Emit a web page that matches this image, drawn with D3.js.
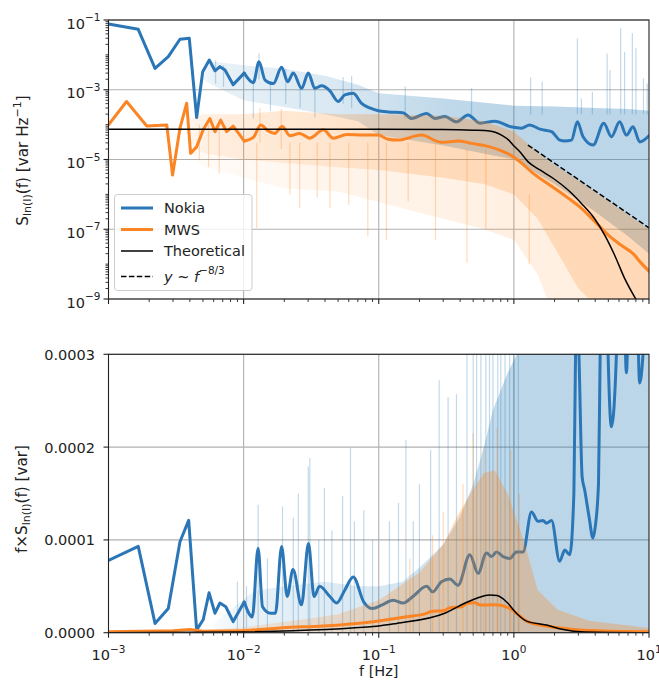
<!DOCTYPE html>
<html>
<head>
<meta charset="utf-8">
<script src="https://cdn.jsdelivr.net/npm/d3@7"></script>
<style>
  body { margin: 0; background: #fff; }
  svg text { font-family: "DejaVu Sans", sans-serif; fill: #222; }
</style>
</head>
<body>
<svg id="chart" width="659" height="690"></svg>
<script>
// ---- axis ticks / labels
const xMajor = [1e-3, 1e-2, 1e-1, 1e0, 1e1];
const xMajorExp = ['−3', '−2', '−1', '0', '1'];
const topYMajor = [1e-9, 1e-7, 1e-5, 1e-3, 1e-1];
const topYMajorExp = ['−9', '−7', '−5', '−3', '−1'];
const botYTicks = [0, 1, 2, 3]; // bottom panel values are in units of 1e-4 var
const botYLabels = ['0.0000', '0.0001', '0.0002', '0.0003'];

// ---- top panel: S(f) [var Hz^-1], smoothed spectra
const nokiaPsdF = [0.001, 0.00166, 0.00221, 0.00277, 0.00338, 0.00396, 0.00449, 0.00498, 0.00557, 0.00614,
  0.00668, 0.00728, 0.00837, 0.0101, 0.0118, 0.013, 0.0144, 0.0166, 0.0191, 0.0212,
  0.0233, 0.0269, 0.0301, 0.0337, 0.0378, 0.0435, 0.0501, 0.0561, 0.0647, 0.0746,
  0.0859, 0.099, 0.1175, 0.151, 0.175, 0.226, 0.26, 0.308, 0.376, 0.458,
  0.56, 0.722, 0.95, 1.14, 1.31, 1.56, 1.9, 2.19, 2.38, 2.67,
  2.95, 3.25, 3.86, 4.63, 5.27, 6.07, 6.8, 7.62, 8.54, 10];
const nokiaPsd = [7.7e-2, 5.4e-2, 4.1e-3, 8.9e-3, 2.8e-2, 3.0e-2, 1.6e-4, 3.3e-3, 7.1e-3, 3.5e-3,
  4.6e-3, 3.7e-3, 1.4e-3, 3.0e-3, 1.6e-3, 6.3e-3, 1.9e-3, 1.5e-3, 4.4e-3, 1.7e-3,
  3.0e-3, 1.1e-3, 3.0e-3, 1.1e-3, 1.3e-3, 9.3e-4, 4.6e-4, 7.1e-4, 7.9e-4, 4.1e-4,
  3.0e-4, 2.5e-4, 2.3e-4, 2.2e-4, 1.5e-4, 2.1e-4, 1.5e-4, 1.7e-4, 1.2e-4, 1.9e-4,
  1.1e-4, 1.26e-4, 8.7e-5, 7.9e-5, 9.8e-5, 7.4e-5, 6.3e-5, 3.6e-5, 3.4e-5, 3.6e-5,
  1.2e-4, 4.5e-5, 2.6e-5, 1.1e-4, 4.5e-5, 1.2e-4, 5.0e-5, 8.7e-5, 3.2e-5, 4.8e-5];

const mwsPsdF = [0.001, 0.00136, 0.00192, 0.0027, 0.00298, 0.00338, 0.00379, 0.00405, 0.00449, 0.00502,
  0.00563, 0.00614, 0.00676, 0.00748, 0.00837, 0.0101, 0.0118, 0.0134, 0.0152, 0.017,
  0.0193, 0.022, 0.026, 0.0309, 0.039, 0.046, 0.058, 0.077, 0.099, 0.1175,
  0.139, 0.207, 0.29, 0.39, 0.486, 0.61, 0.787, 0.95, 1.107, 1.39,
  1.84, 2.45, 3.16, 4.08, 5.12, 6.42, 7.62, 8.79, 10];
const mwsPsd = [9.8e-5, 4.6e-4, 9.1e-5, 9.8e-5, 3.6e-6, 7.9e-5, 4.1e-4, 1.5e-5, 2.3e-5, 7.1e-5,
  1.5e-4, 6.3e-5, 1.35e-4, 6.3e-5, 9.1e-5, 3.4e-5, 4.3e-5, 9.8e-5, 6.6e-5, 5.6e-5,
  8.9e-5, 4.8e-5, 5.6e-5, 4.1e-5, 7.1e-5, 4.1e-5, 5.2e-5, 5.0e-5, 5.0e-5, 3.8e-5,
  3.6e-5, 5.0e-5, 3.1e-5, 3.4e-5, 2.9e-5, 2.5e-5, 1.86e-5, 1.32e-5, 8.7e-6, 4.0e-6,
  1.86e-6, 8.5e-7, 4.0e-7, 1.5e-7, 6.2e-8, 3.2e-8, 2.0e-8, 1.05e-8, 6.3e-9];

const theoryPsdF = [0.001, 0.1, 0.3, 0.5, 0.66, 0.81, 0.93, 0.986, 1.107, 1.27,
  1.56, 1.95, 2.52, 3.16, 3.96, 4.7, 5.57, 6.6, 8.07];
const theoryPsd = [7.35e-5, 7.35e-5, 7.2e-5, 6.9e-5, 6.6e-5, 5.0e-5, 3.4e-5, 2.6e-5, 1.66e-5, 8.7e-6,
  5.0e-6, 2.9e-6, 1.33e-6, 5.5e-7, 2.0e-7, 6.8e-8, 1.8e-8, 3.9e-9, 9.3e-10];

const slopeF = [1.27, 10];
const slopePsd = [2.6e-5, 1.1e-7];

// raw periodogram envelopes (top)
const nokiaPsdBandF = [0.005, 0.006, 0.01, 0.02, 0.04, 0.07, 0.1, 0.3, 1, 2, 4, 7, 10];
const nokiaPsdBandLo = [2e-3, 1.3e-3, 5e-4, 3.2e-4, 2e-4, 1.26e-4, 5e-5, 2.5e-5, 1e-5, 2e-6, 3.2e-7, 6.3e-8, 2e-8];
const nokiaPsdBandHi = [4e-3, 6.3e-3, 5e-3, 4e-3, 2.5e-3, 1.4e-3, 8e-4, 5.6e-4, 3.5e-4, 3.3e-4, 3e-4, 2.8e-4, 2.5e-4];

const mwsPsdBandF = [0.004, 0.005, 0.01, 0.02, 0.05, 0.1, 0.3, 0.6, 1, 1.5, 2, 3, 5, 10];
const mwsPsdBandHi = [1.5e-4, 2e-4, 2e-4, 2.5e-4, 2e-4, 2e-4, 1.8e-4, 1.26e-4, 6.3e-5, 1.6e-5, 7e-6, 2.5e-6, 6.3e-7, 1e-7];
const mwsPsdDenseLo = [3e-5, 1.5e-5, 1e-5, 8e-6, 6e-6, 5e-6, 3e-6, 2e-6, 1e-6, 2e-7, 3e-8, 2e-9, 3e-10, 3e-10];
const mwsPsdSparseLo = [1.5e-5, 6.3e-6, 3e-6, 1.5e-6, 1.2e-6, 6e-7, 2e-7, 1e-7, 5e-8, 5e-9, 3e-10, 3e-10, 3e-10, 3e-10];

// isolated raw spikes [f, from, to] (top)
const nokiaPsdSpikes = [[0.0062, 1.5e-3, 7e-3], [0.0071, 1.2e-3, 5e-3], [0.0118, 1.5e-4, 1.6e-3], [0.013, 2e-3, 1.1e-2],
  [0.0158, 2.5e-4, 1.6e-3], [0.0205, 4e-4, 4e-3], [0.0262, 3e-4, 1.2e-3], [0.0337, 1.6e-4, 1e-3],
  [0.0545, 4e-4, 2.3e-3], [0.063, 3e-4, 2.5e-3], [0.157, 1.5e-4, 1.23e-3], [0.486, 1.5e-4, 1.1e-3],
  [1.33, 2e-4, 2.3e-3], [1.62, 2e-4, 1.7e-3], [2.95, 2e-4, 2.95e-2], [3.16, 2e-4, 5.6e-4],
  [3.81, 2e-4, 8.7e-4], [4.9, 2e-4, 1.1e-2], [5.14, 2e-4, 3.7e-3], [6.17, 2e-4, 5.8e-2],
  [6.6, 2e-4, 1.2e-2], [7.53, 2e-4, 4.2e-2], [8.0, 2e-4, 1.55e-2], [9.1, 2e-4, 2.1e-3], [9.7, 2e-4, 1.5e-3]];
const mwsPsdSpikes = [[0.0047, 1e-5, 1e-4], [0.0055, 6e-6, 1e-4], [0.0066, 4e-6, 1e-4], [0.0125, 1.07e-7, 3e-5],
  [0.0132, 3e-5, 3e-4], [0.019, 2e-5, 2.8e-4], [0.022, 1e-6, 3e-5], [0.026, 4e-7, 3e-5], [0.035, 8e-7, 3e-5],
  [0.0435, 4e-7, 3e-5], [0.06, 5e-7, 3e-5], [0.083, 6.3e-8, 3e-5], [0.114, 5e-8, 3e-5], [0.165, 6.3e-7, 3e-5],
  [0.263, 5e-8, 3e-5], [0.45, 1.1e-8, 2e-5], [0.62, 1e-7, 2e-5], [1.3, 1e-8, 1e-6]];

// ---- bottom panel: f x S(f), in units of 1e-4 var
const nokiaFsF = [0.001, 0.00166, 0.00221, 0.00277, 0.00338, 0.00392, 0.00449, 0.00502, 0.00555, 0.00614,
  0.00668, 0.00738, 0.00837, 0.0101, 0.0116, 0.0128, 0.0138, 0.0158, 0.0172, 0.0191,
  0.021, 0.0232, 0.0268, 0.0302, 0.0332, 0.0365, 0.0435, 0.0488, 0.0561, 0.0647,
  0.0775, 0.0896, 0.106, 0.128, 0.151, 0.179, 0.226, 0.251, 0.291, 0.336,
  0.386, 0.472, 0.543, 0.627, 0.683, 0.743, 0.832, 0.933, 1.045, 1.17,
  1.35, 1.51, 1.64, 1.74, 1.9, 2.18, 2.38, 2.59, 2.78, 2.86,
  2.95, 3.03, 3.2, 3.34, 3.6, 3.85, 4.0, 4.23, 4.35, 4.7,
  4.98, 5.27, 5.74, 6.1, 6.8, 7.6, 8.53, 9.03, 10];
const nokiaFs = [0.78, 0.93, 0.10, 0.26, 0.98, 1.21, 0.03, 0.14, 0.43, 0.21,
  0.32, 0.28, 0.12, 0.33, 0.17, 0.91, 0.28, 0.21, 0.21, 0.93,
  0.39, 0.68, 0.30, 0.96, 0.39, 0.50, 0.39, 0.32, 0.46, 0.60,
  0.33, 0.26, 0.30, 0.35, 0.32, 0.39, 0.50, 0.44, 0.55, 0.58,
  0.51, 0.84, 0.64, 0.86, 0.82, 0.87, 0.82, 0.80, 0.87, 0.87,
  1.30, 1.20, 1.21, 1.18, 1.21, 0.77, 0.89, 0.84, 1.5, 3.0,
  3.5, 3.0, 1.68, 1.54, 1.25, 1.02, 1.14, 1.61, 3.0, 5.1,
  3.0, 2.22, 3.0, 7.3, 2.8, 6.6, 2.69, 3.0, 4.7];

const mwsFsF = [0.001, 0.003, 0.004, 0.005, 0.01, 0.0196, 0.0388, 0.091, 0.161, 0.226,
  0.24, 0.308, 0.336, 0.41, 0.45, 0.514, 0.565, 0.72, 0.933, 1.045,
  1.24, 1.69, 2.31, 3.07, 4.1, 9.56, 10];
const mwsFs = [0.01, 0.02, 0.035, 0.015, 0.02, 0.054, 0.072, 0.119, 0.172, 0.209,
  0.226, 0.24, 0.27, 0.28, 0.317, 0.323, 0.298, 0.30, 0.263, 0.209,
  0.125, 0.075, 0.047, 0.03, 0.022, 0.011, 0.011];

const theoryFsF = [0.001, 0.01, 0.1, 0.1355, 0.308, 0.433, 0.543, 0.66, 0.75, 0.88,
  1.045, 1.24, 1.74, 2.27, 3.34, 10];
const theoryFs = [0.0007, 0.007, 0.073, 0.10, 0.209, 0.317, 0.377, 0.406, 0.40, 0.334,
  0.209, 0.125, 0.083, 0.037, 0.008, 0.0];

const nokiaFsBandF = [0.006, 0.008, 0.012, 0.02, 0.04, 0.07, 0.1, 0.15, 0.2, 0.3, 0.4, 0.5, 0.6, 0.7, 0.9, 1.05, 1.15, 10];
const nokiaFsBandHi = [0.1, 0.25, 0.45, 0.5, 0.55, 0.5, 0.5, 0.55, 0.7, 0.95, 1.25, 1.6, 2.0, 2.4, 2.8, 3.0, 4.0, 4.0];
const mwsFsBandF = [0.004, 0.005, 0.01, 0.03, 0.05, 0.1, 0.2, 0.3, 0.38, 0.5, 0.6, 0.72, 0.9, 1.0, 1.2, 1.5, 2.1, 3.6, 10];
const mwsFsBandHi = [0.0, 0.03, 0.06, 0.15, 0.2, 0.35, 0.65, 0.95, 1.25, 1.55, 1.72, 1.75, 1.5, 1.3, 0.97, 0.46, 0.25, 0.13, 0.05];

// raw spikes [f, top] rising from zero (bottom)
const nokiaFsSpikes = [[0.009, 0.55], [0.0105, 0.5], [0.0128, 1.38], [0.015, 0.8], [0.0194, 1.36], [0.0233, 1.24],
  [0.0254, 1.5], [0.0301, 1.79], [0.0309, 1.88], [0.036, 1.0], [0.0396, 1.56], [0.045, 1.1], [0.054, 1.47],
  [0.0618, 1.99], [0.066, 1.2], [0.0775, 1.32], [0.09, 1.0], [0.12, 1.2], [0.14, 1.4], [0.159, 2.08],
  [0.18, 1.2], [0.2, 1.6], [0.242, 1.97], [0.28, 2.72], [0.326, 2.54], [0.376, 2.57], [0.45, 3.5],
  [0.5, 3.5], [0.53, 3.5], [0.57, 3.5], [0.62, 3.5], [0.66, 3.5], [0.7, 3.5], [0.76, 3.5], [0.8, 3.5],
  [0.86, 3.5], [0.93, 3.5], [1.0, 3.5], [1.08, 3.5]];
const mwsFsSpikes = [[0.17, 0.8], [0.25, 1.05], [0.3, 1.3], [0.42, 1.6], [0.5, 2.15], [0.6, 2.0], [0.75, 2.2],
  [0.95, 1.97], [1.1, 1.5]];

// ---- legend
const legendNames = ['Nokia', 'MWS', 'Theoretical'];

// ---------------------------------------------------------------
const blue = '#2a76b6', orange = '#fb8424';
const blueRaw = '#1f77b4', orangeRaw = '#ff7f0e';

const svg = d3.select('#chart');
const defs = svg.append('defs');

const x = d3.scaleLog().domain([1e-3, 10]).range([108.5, 649]);
const yTop = d3.scaleLog().domain([1e-9, 1e-1]).range([299, 20]);
const yBot = d3.scaleLinear().domain([0, 3]).range([632.7, 354.3]);

function addClip(id, y) {
  const [b, t] = y.range();
  defs.append('clipPath').attr('id', id).append('rect')
    .attr('x', x.range()[0]).attr('y', t)
    .attr('width', x.range()[1] - x.range()[0]).attr('height', b - t);
}
addClip('clipTop', yTop);
addClip('clipBot', yBot);

// fade raw-band opacity in at low f (raw spectrum is sparse there)
function fade(id, color, stops) {
  const g = defs.append('linearGradient').attr('id', id)
    .attr('gradientUnits', 'userSpaceOnUse')
    .attr('x1', x(1e-3)).attr('x2', x(10)).attr('y1', 0).attr('y2', 0);
  const span = x(10) - x(1e-3);
  stops.forEach(([f, o]) => g.append('stop')
    .attr('offset', (x(f) - x(1e-3)) / span)
    .attr('stop-color', color).attr('stop-opacity', o));
}
fade('fadeBlueTop', blueRaw, [[0.004, 0], [0.006, 0.1], [0.05, 0.17], [0.3, 0.28], [1, 0.3], [10, 0.3]]);
fade('fadeOrangeTopSparse', orangeRaw, [[0.004, 0.03], [0.05, 0.08], [1, 0.12], [10, 0.12]]);
fade('fadeOrangeTop', orangeRaw, [[0.004, 0.04], [0.006, 0.1], [0.05, 0.14], [0.2, 0.2], [10, 0.2]]);
fade('fadeBlueBot', blueRaw, [[0.005, 0], [0.01, 0.1], [0.1, 0.17], [0.5, 0.24], [1.1, 0.3], [10, 0.3]]);
fade('fadeOrangeBot', orangeRaw, [[0.004, 0.1], [0.05, 0.2], [0.2, 0.28], [10, 0.3]]);

function grid(y, yTicks) {
  const g = svg.append('g');
  g.selectAll('.vg').data([1e-2, 1e-1, 1e0]).join('line')
    .attr('x1', d => x(d)).attr('x2', d => x(d))
    .attr('y1', y.range()[1]).attr('y2', y.range()[0])
    .attr('stroke', '#b0b0b0').attr('stroke-width', 1.1);
  g.selectAll('.hg').data(yTicks).join('line')
    .attr('x1', x.range()[0]).attr('x2', x.range()[1])
    .attr('y1', d => y(d)).attr('y2', d => y(d))
    .attr('stroke', '#b0b0b0').attr('stroke-width', 1.1);
}

function zip(fs, vs) { return fs.map((f, i) => [f, vs[i]]); }

// few points below 0.01 Hz -> straight segments; dense smoothed part above -> smooth curve
function drawLine(g, y, pts, color, width, dash, smoothFrom) {
  const style = p => p.attr('fill', 'none').attr('stroke', color).attr('stroke-width', width)
    .attr('stroke-linejoin', 'round').attr('stroke-linecap', dash ? 'butt' : 'round')
    .attr('stroke-dasharray', dash || null);
  if (smoothFrom == null) {
    g.append('path').datum(pts).attr('d', d3.line().x(d => x(d[0])).y(d => y(d[1]))).call(style);
    return;
  }
  const k = pts.findIndex(d => d[0] >= smoothFrom);
  g.append('path').datum(pts.slice(0, k + 1))
    .attr('d', d3.line().x(d => x(d[0])).y(d => y(d[1]))).call(style);
  g.append('path').datum(pts.slice(k))
    .attr('d', d3.line().x(d => x(d[0])).y(d => y(d[1])).curve(d3.curveMonotoneX)).call(style);
}

function drawBand(g, y, fs, lo, hi, fill) {
  g.append('path').datum(fs.map((f, i) => [f, lo[i], hi[i]]))
    .attr('d', d3.area().x(d => x(d[0])).y0(d => y(d[1])).y1(d => y(d[2])))
    .attr('fill', fill);
}

function drawSpikes(g, y, spikes, color) {
  g.selectAll(null).data(spikes).join('line')
    .attr('x1', d => x(d[0])).attr('x2', d => x(d[0]))
    .attr('y1', d => y(d[1])).attr('y2', d => y(d[2]))
    .attr('stroke', color).attr('stroke-opacity', 0.28).attr('stroke-width', 1.2);
}

function spines(y) {
  svg.append('rect')
    .attr('x', x.range()[0]).attr('y', y.range()[1])
    .attr('width', x.range()[1] - x.range()[0]).attr('height', y.range()[0] - y.range()[1])
    .attr('fill', 'none').attr('stroke', '#222').attr('stroke-width', 1.1);
}

function xTicks(y, withLabels) {
  const y0 = y.range()[0];
  const minor = [];
  for (let e = -3; e < 1; e++) for (let k = 2; k <= 9; k++) minor.push(k * Math.pow(10, e));
  const g = svg.append('g');
  g.selectAll('.mi').data(minor).join('line')
    .attr('x1', d => x(d)).attr('x2', d => x(d)).attr('y1', y0).attr('y2', y0 + 3)
    .attr('stroke', '#222').attr('stroke-width', 0.9);
  g.selectAll('.ma').data(xMajor).join('line')
    .attr('x1', d => x(d)).attr('x2', d => x(d)).attr('y1', y0).attr('y2', y0 + 5)
    .attr('stroke', '#222').attr('stroke-width', 1.1);
  if (!withLabels) return;
  xMajor.forEach((d, i) => {
    const t = g.append('text').attr('x', x(d)).attr('y', y0 + 27.5)
      .attr('text-anchor', 'middle').attr('font-size', 14.5);
    t.append('tspan').text('10');
    t.append('tspan').attr('dy', -7.5).attr('font-size', 10.5).text(xMajorExp[i]);
  });
}

// ---------------- top panel
grid(yTop, topYMajor);
const gTop = svg.append('g').attr('clip-path', 'url(#clipTop)');
drawBand(gTop, yTop, nokiaPsdBandF, nokiaPsdBandLo, nokiaPsdBandHi, 'url(#fadeBlueTop)');
drawSpikes(gTop, yTop, nokiaPsdSpikes, blueRaw);
drawLine(gTop, yTop, zip(nokiaPsdF, nokiaPsd), blue, 3, null, 0.01);
drawBand(gTop, yTop, mwsPsdBandF, mwsPsdSparseLo, mwsPsdBandHi, 'url(#fadeOrangeTopSparse)');
drawBand(gTop, yTop, mwsPsdBandF, mwsPsdDenseLo, mwsPsdBandHi, 'url(#fadeOrangeTop)');
drawSpikes(gTop, yTop, mwsPsdSpikes, orangeRaw);
drawLine(gTop, yTop, zip(mwsPsdF, mwsPsd), orange, 3, null, 0.01);
drawLine(gTop, yTop, zip(theoryPsdF, theoryPsd), '#000', 1.5, null, 0.1);
drawLine(gTop, yTop, zip(slopeF, slopePsd), '#000', 1.5, '5.5,2.4');
spines(yTop);
xTicks(yTop, false);

// top y ticks (log)
{
  const g = svg.append('g');
  const minor = [];
  for (let e = -9; e < -1; e++) for (let k = 1; k <= 9; k++) {
    const v = k * Math.pow(10, e);
    if (!(k === 1 && e % 2 !== 0)) minor.push(v);
  }
  g.selectAll('.mi').data(minor).join('line')
    .attr('x1', x.range()[0] - 3).attr('x2', x.range()[0])
    .attr('y1', d => yTop(d)).attr('y2', d => yTop(d))
    .attr('stroke', '#222').attr('stroke-width', 0.9);
  g.selectAll('.ma').data(topYMajor).join('line')
    .attr('x1', x.range()[0] - 5).attr('x2', x.range()[0])
    .attr('y1', d => yTop(d)).attr('y2', d => yTop(d))
    .attr('stroke', '#222').attr('stroke-width', 1.1);
  topYMajor.forEach((d, i) => {
    const t = g.append('text').attr('x', 100.5).attr('y', yTop(d) + 8.5)
      .attr('text-anchor', 'end').attr('font-size', 14.5);
    t.append('tspan').text('10');
    t.append('tspan').attr('dy', -7.5).attr('font-size', 10.5).text(topYMajorExp[i]);
  });
  const lab = svg.append('text').attr('transform', 'translate(27.5,160.5) rotate(-90)')
    .attr('text-anchor', 'middle').attr('font-size', 15.2);
  lab.append('tspan').text('S');
  lab.append('tspan').attr('dy', 3).attr('font-size', 11).text('ln(I)');
  lab.append('tspan').attr('dy', -3).text('(f) [var Hz');
  lab.append('tspan').attr('dy', -7).attr('font-size', 11).text('−1');
  lab.append('tspan').attr('dy', 7).text(']');
}

// legend
{
  const g = svg.append('g');
  g.append('rect').attr('x', 114.5).attr('y', 194.5).attr('width', 137.5).attr('height', 96)
    .attr('rx', 3).attr('fill', '#fff').attr('fill-opacity', 0.8)
    .attr('stroke', '#cccccc').attr('stroke-width', 1);
  const rows = [
    { y: 208, color: blue, w: 3, dash: null },
    { y: 229.5, color: orange, w: 3, dash: null },
    { y: 251, color: '#000', w: 1.5, dash: null },
    { y: 276.5, color: '#000', w: 1.5, dash: '5.5,2.4' }
  ];
  rows.forEach((r, i) => {
    g.append('line').attr('x1', 121).attr('x2', 153).attr('y1', r.y).attr('y2', r.y)
      .attr('stroke', r.color).attr('stroke-width', r.w).attr('stroke-dasharray', r.dash);
    if (i < legendNames.length) {
      g.append('text').attr('x', 164).attr('y', r.y + 5.2).attr('font-size', 14.5).text(legendNames[i]);
    }
  });
  const t = g.append('text').attr('x', 164).attr('y', 276.5 + 5.2).attr('font-size', 14.5);
  t.append('tspan').attr('font-style', 'italic').text('y');
  t.append('tspan').text(' ~ ');
  t.append('tspan').attr('font-style', 'italic').text('f');
  t.append('tspan').attr('dy', -7.5).attr('font-size', 10.5).text('−8/3');
}

// ---------------- bottom panel
grid(yBot, botYTicks);
const gBot = svg.append('g').attr('clip-path', 'url(#clipBot)');
drawBand(gBot, yBot, nokiaFsBandF, nokiaFsBandF.map(() => 0), nokiaFsBandHi, 'url(#fadeBlueBot)');
drawSpikes(gBot, yBot, nokiaFsSpikes.map(d => [d[0], 0, d[1]]), blueRaw);
drawLine(gBot, yBot, zip(nokiaFsF, nokiaFs), blue, 3, null, 0.01);
drawBand(gBot, yBot, mwsFsBandF, mwsFsBandF.map(() => 0), mwsFsBandHi, 'url(#fadeOrangeBot)');
drawSpikes(gBot, yBot, mwsFsSpikes.map(d => [d[0], 0, d[1]]), orangeRaw);
drawLine(gBot, yBot, zip(mwsFsF, mwsFs), orange, 3, null, 0.01);
drawLine(gBot, yBot, zip(theoryFsF, theoryFs), '#000', 1.5, null, 0.01);
spines(yBot);
xTicks(yBot, true);

{
  const g = svg.append('g');
  g.selectAll('.ma').data(botYTicks).join('line')
    .attr('x1', x.range()[0] - 5).attr('x2', x.range()[0])
    .attr('y1', d => yBot(d)).attr('y2', d => yBot(d))
    .attr('stroke', '#222').attr('stroke-width', 1.1);
  g.selectAll('.tl').data(botYTicks).join('text')
    .attr('x', 95).attr('y', d => yBot(d) + 5.5)
    .attr('text-anchor', 'end').attr('font-size', 14.5)
    .text((d, i) => botYLabels[i]);
  const lab = svg.append('text').attr('transform', 'translate(27,499) rotate(-90)')
    .attr('text-anchor', 'middle').attr('font-size', 15.2);
  lab.append('tspan').text('f×S');
  lab.append('tspan').attr('dy', 3).attr('font-size', 11).text('ln(I)');
  lab.append('tspan').attr('dy', -3).text('(f) [var]');
  svg.append('text').attr('x', (x.range()[0] + x.range()[1]) / 2).attr('y', 675.5)
    .attr('text-anchor', 'middle').attr('font-size', 14.5).text('f [Hz]');
}
</script>
</body>
</html>
